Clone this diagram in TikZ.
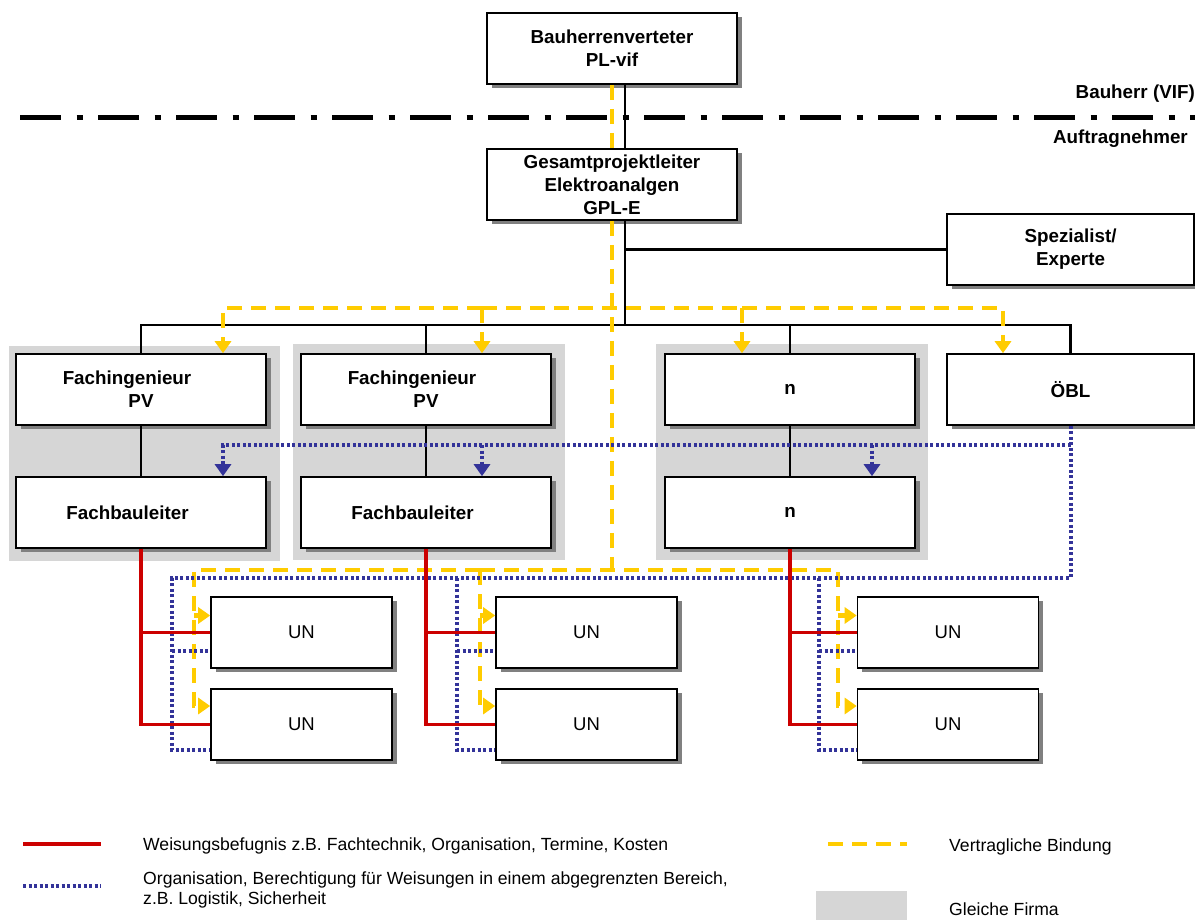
\documentclass[tikz,border=0pt]{standalone}
\usepackage{fontspec}
\setmainfont{Liberation Sans}
\usetikzlibrary{positioning,arrows.meta,fit,shadows,backgrounds}
\definecolor{authred}{RGB}{204,0,0}
\definecolor{orgblue}{RGB}{51,51,153}
\definecolor{contractyellow}{RGB}{255,204,0}
\definecolor{firmgray}{RGB}{214,214,214}
\definecolor{shadegray}{RGB}{128,128,128}
\tikzset{
  rolebox/.style={draw, line width=1.6pt, fill=white, general shadow={fill=shadegray, shadow xshift=4.5pt, shadow yshift=-4pt}, minimum width=250pt, minimum height=71pt, inner sep=1pt, align=center, font=\fontsize{18.8}{23}\selectfont\bfseries},
  unbox/.style={rolebox, minimum width=181pt, font=\fontsize{18.5}{22}\selectfont},
  firm/.style={fill=firmgray, inner sep=0pt},
  link/.style={line width=2.6pt},
  authline/.style={draw=authred, line width=3.4pt},
  orgline/.style={draw=orgblue, line width=4pt, dash pattern=on 3pt off 2.5pt},
  contractline/.style={draw=contractyellow, line width=4.5pt, dash pattern=on 15pt off 9pt},
  sepline/.style={line width=5pt, dash pattern=on 41pt off 15.5pt on 6pt off 15.5pt},
  sidelabel/.style={font=\fontsize{18.8}{23}\selectfont\bfseries, inner sep=0pt},
  legendtext/.style={font=\fontsize{17.6}{20}\selectfont, inner sep=0pt, align=left}
}
\begin{document}
\begin{tikzpicture}[x=1pt, y=-1pt, >={Triangle[length=12pt,width=16pt]}]
  \useasboundingbox (0,0) rectangle (1195,920);
  \node[rolebox] (bhv) at (612,48.5) {Bauherrenverteter\\PL-vif};
  \node[rolebox] (gpl) at (612,184.5) {Gesamtprojektleiter\\Elektroanalgen\\GPL-E};
  \node[rolebox, minimum width=247pt] (spez) at (1070.5,249.5) {Spezialist/\\Experte};
  \node[rolebox] (fi1) at (141,389.5) {Fachingenieur\hspace{28pt}\mbox{}\\PV};
  \node[rolebox] (fi2) at (426,389.5) {Fachingenieur\hspace{28pt}\mbox{}\\PV};
  \node[rolebox] (n1) at (790,389.5) {n};
  \node[rolebox, minimum width=247pt] (oebl) at (1070.5,389.5) {ÖBL};
  \node[rolebox] (fb1) at (141,512.5) {Fachbauleiter\hspace{27pt}\mbox{}};
  \node[rolebox] (fb2) at (426,512.5) {Fachbauleiter\hspace{27pt}\mbox{}};
  \node[rolebox] (n2) at (790,512.5) {n};
  \node[unbox] (un1a) at (301.5,632.5) {UN};
  \node[unbox] (un1b) at (301.5,724.5) {UN};
  \node[unbox] (un2a) at (586.5,632.5) {UN};
  \node[unbox] (un2b) at (586.5,724.5) {UN};
  \node[unbox] (un3a) at (948,632.5) {UN};
  \node[unbox] (un3b) at (948,724.5) {UN};

  \coordinate (f1tl) at ([shift={(-6,-7)}]fi1.north west);
  \coordinate (f1br) at ([shift={(13,12)}]fb1.south east);
  \coordinate (f2tl) at ([shift={(-7,-9)}]fi2.north west);
  \coordinate (f2br) at ([shift={(13,11)}]fb2.south east);
  \coordinate (f3tl) at ([shift={(-8,-9)}]n1.north west);
  \coordinate (f3br) at ([shift={(12,11)}]n2.south east);
  \begin{scope}[on background layer]
    \node[firm, fit=(f1tl)(f1br)] (firm1) {};
    \node[firm, fit=(f2tl)(f2br)] (firm2) {};
    \node[firm, fit=(f3tl)(f3br)] (firm3) {};
  \end{scope}

  \draw[sepline] (20,118) -- (1195,118);
  \node[sidelabel, anchor=base east] (bauherr) at (1195,99) {Bauherr (VIF)};
  \node[sidelabel, anchor=base east] (auftrag) at (1188,144) {Auftragnehmer};

  \coordinate (gs) at ([xshift=13pt]gpl.south);
  \coordinate (kb) at (gs |- 0,325);
  \draw[link] ([xshift=13pt]bhv.south) -- ([xshift=13pt]gpl.north);
  \draw[link] (gs) -- (kb);
  \draw[link] (gs |- spez.west) -- (spez.west);
  \draw[link] (fi1.north) |- (kb) -| (oebl.north);
  \draw[link] (fi2.north) -- (fi2.north |- kb);
  \draw[link] (n1.north) -- (n1.north |- kb);
  \draw[link] (fi1) -- (fb1);
  \draw[link] (fi2) -- (fb2);
  \draw[link] (n1) -- (n2);

  \coordinate (ya) at (223,308);
  \coordinate (yb) at (482,308);
  \coordinate (yc) at (742,308);
  \coordinate (yd) at (1003,308);
  \coordinate (yj) at (612,570);
  \coordinate (ye) at (194,570);
  \coordinate (yf) at (480,570);
  \coordinate (yg) at (838,570);
  \coordinate (y1a) at ([yshift=17pt]un1a.west);
  \coordinate (y1b) at ([yshift=18.5pt]un1b.west);
  \coordinate (y2a) at ([yshift=17pt]un2a.west);
  \coordinate (y2b) at ([yshift=18.5pt]un2b.west);
  \coordinate (y3a) at ([yshift=17pt]un3a.west);
  \coordinate (y3b) at ([yshift=18.5pt]un3b.west);
  \draw[contractline] (bhv.south) -- (gpl.north);
  \draw[contractline] (gpl.south) -- (yj);
  \draw[contractline, ->] (yb) -- (ya) -- (ya |- fi1.north);
  \draw[contractline] (yb) -- (yc);
  \draw[contractline, ->] (yc) -- (yd) -- (yd |- oebl.north);
  \draw[contractline, ->] (yb) -- (yb |- fi2.north);
  \draw[contractline, ->] (yc) -- (yc |- n1.north);
  \draw[contractline, ->] (yf) -- (ye) |- (y1b);
  \draw[contractline, ->] (ye |- y1a) -- (y1a);
  \draw[contractline, ->] (yf) -- (yg) |- (y3b);
  \draw[contractline, ->] (yg |- y3a) -- (y3a);
  \draw[contractline, ->] (yf) |- (y2b);
  \draw[contractline, ->] (yf |- y2a) -- (y2a);

  \coordinate (bq) at (oebl.south |- 0,445);
  \coordinate (bx) at (223,445);
  \coordinate (by) at (482,445);
  \coordinate (bz) at (872,445);
  \coordinate (bb) at (oebl.south |- 0,578);
  \coordinate (ba) at (172,578);
  \coordinate (bm) at (457,578);
  \coordinate (br) at (819,578);
  \coordinate (o1a) at ([yshift=-18.5pt]un1a.west);
  \coordinate (o1b) at ([yshift=-25.5pt]un1b.west);
  \coordinate (o2a) at ([yshift=-18.5pt]un2a.west);
  \coordinate (o2b) at ([yshift=-25.5pt]un2b.west);
  \coordinate (o3a) at ([yshift=-18.5pt]un3a.west);
  \coordinate (o3b) at ([yshift=-25.5pt]un3b.west);
  \draw[orgline, ->] (bq) -- (bx) -- (bx |- fb1.north);
  \draw[orgline, ->] (by) -- (by |- fb2.north);
  \draw[orgline, ->] (bz) -- (bz |- n2.north);
  \draw[orgline] (oebl.south) -- (bb) -- (ba) |- (o1b);
  \draw[orgline] (ba |- o1a) -- (o1a);
  \draw[orgline] (bm) |- (o2b);
  \draw[orgline] (bm |- o2a) -- (o2a);
  \draw[orgline] (br) |- (o3b);
  \draw[orgline] (br |- o3a) -- (o3a);

  \draw[authline] (fb1.south) |- (un1a.west);
  \draw[authline] (fb1.south) |- (un1b.west);
  \draw[authline] (fb2.south) |- (un2a.west);
  \draw[authline] (fb2.south) |- (un2b.west);
  \draw[authline] (n2.south) |- (un3a.west);
  \draw[authline] (n2.south) |- (un3b.west);

  \draw[authline] (23,844) -- (101,844);
  \draw[orgline] (23,886) -- (101,886);
  \draw[contractline] (828,844) -- (907,844);
  \fill[firmgray] (816,891) rectangle (907,920);
  \node[legendtext, anchor=base west] (lgauth) at (143,850) {Weisungsbefugnis z.B. Fachtechnik, Organisation, Termine, Kosten};
  \node[legendtext, anchor=west] (lgorg) at (143,890) {Organisation, Berechtigung für Weisungen in einem abgegrenzten Bereich,\\z.B. Logistik, Sicherheit};
  \node[legendtext, anchor=base west] (lgcontract) at (949,851) {Vertragliche Bindung};
  \node[legendtext, anchor=base west] (lgfirm) at (949,915.5) {Gleiche Firma};
\end{tikzpicture}
\end{document}
